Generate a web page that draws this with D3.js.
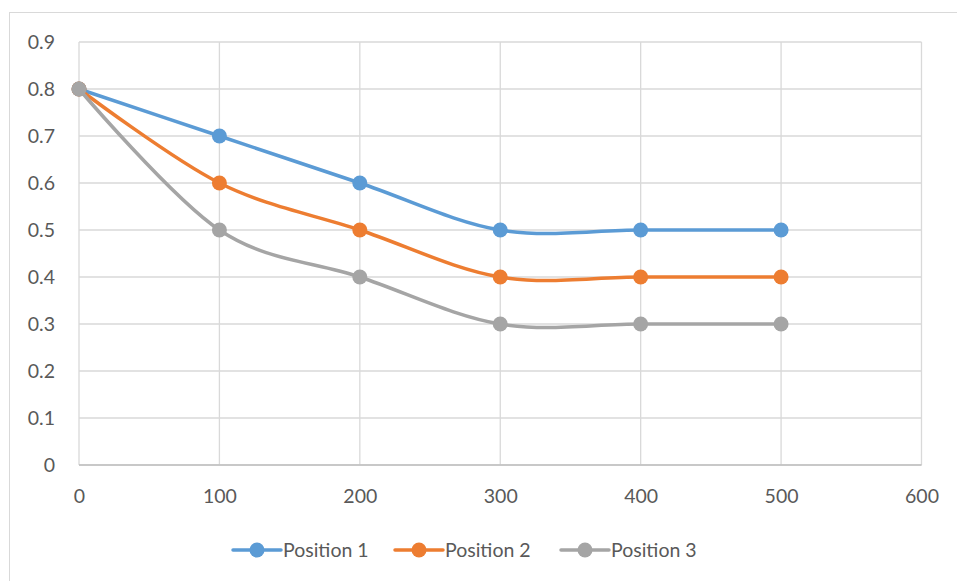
<!DOCTYPE html>
<html>
<head>
<meta charset="utf-8">
<script src="https://cdn.jsdelivr.net/npm/d3@7"></script>
<style>
  html, body { margin: 0; padding: 0; background: #fff; }
  svg { display: block; }
  text { font-family: Lato, "Open Sans", sans-serif; fill: #595959; }
</style>
</head>
<body>
<svg id="chart" width="957" height="581"></svg>
<script>
const xValues = [0, 100, 200, 300, 400, 500];
const seriesNames = ["Position 1", "Position 2", "Position 3"];
const position1 = [0.8, 0.7, 0.6, 0.5, 0.5, 0.5];
const position2 = [0.8, 0.6, 0.5, 0.4, 0.4, 0.4];
const position3 = [0.8, 0.5, 0.4, 0.3, 0.3, 0.3];
const xTicks = [0, 100, 200, 300, 400, 500, 600];
const yTicks = [0, 0.1, 0.2, 0.3, 0.4, 0.5, 0.6, 0.7, 0.8, 0.9];
const colors = ["#5B9BD5", "#ED7D31", "#A5A5A5"];

(function () {
const svg = d3.select("#chart");
const W = 957, H = 581;
const mLeft = 79, mRight = 921.5, mTop = 42, mBottom = 465;
const fontSize = "19.5px";

// outer chart border
svg.append("rect").attr("x", 9.5).attr("y", 12.5).attr("width", W).attr("height", H)
  .attr("fill", "#fff").attr("stroke", "#D9D9D9").attr("stroke-width", 1);

const x = d3.scaleLinear().domain([0, 600]).range([mLeft, mRight]);
const y = d3.scaleLinear().domain([0, 0.9]).range([mBottom, mTop]);

// gridlines
const grid = svg.append("g");
grid.selectAll("line.h").data(yTicks).join("line").attr("class", "h")
  .attr("x1", mLeft).attr("x2", mRight)
  .attr("y1", d => y(d)).attr("y2", d => y(d))
  .attr("stroke", "#D9D9D9").attr("stroke-width", 1.3);
grid.selectAll("line.v").data(xTicks).join("line").attr("class", "v")
  .attr("y1", mTop).attr("y2", mBottom)
  .attr("x1", d => x(d)).attr("x2", d => x(d))
  .attr("stroke", "#D9D9D9").attr("stroke-width", 1.3);
// bottom axis line
svg.append("line").attr("x1", mLeft).attr("x2", mRight).attr("y1", mBottom).attr("y2", mBottom)
  .attr("stroke", "#BFBFBF").attr("stroke-width", 1.3);

// axes labels via d3 axes
const yAxis = d3.axisLeft(y).tickValues(yTicks).tickSize(0).tickPadding(24)
  .tickFormat(d => d === 0 ? "0" : d3.format(".1f")(d));
const gy = svg.append("g").attr("transform", `translate(${mLeft},0)`).call(yAxis);
gy.select(".domain").remove();
gy.selectAll("text").style("font-size", fontSize).attr("fill", "#595959")
  .style("font-family", "Lato, 'Open Sans', sans-serif");

const xAxis = d3.axisBottom(x).tickValues(xTicks).tickSize(0).tickPadding(24)
  .tickFormat(d3.format("d"));
const gx = svg.append("g").attr("transform", `translate(0,${mBottom})`).call(xAxis);
gx.select(".domain").remove();
gx.selectAll("text").style("font-size", fontSize).attr("fill", "#595959")
  .style("font-family", "Lato, 'Open Sans', sans-serif");

// series
const allSeries = [position1, position2, position3];
const line = d3.line().x(d => x(d[0])).y(d => y(d[1])).curve(d3.curveCatmullRom.alpha(0));

allSeries.forEach((vals, i) => {
  const pts = xValues.map((xv, j) => [xv, vals[j]]);
  const g = svg.append("g");
  g.append("path").attr("d", line(pts)).attr("fill", "none")
    .attr("stroke", colors[i]).attr("stroke-width", 3.5).attr("stroke-linecap", "round");
  g.selectAll("circle").data(pts).join("circle")
    .attr("cx", d => x(d[0])).attr("cy", d => y(d[1])).attr("r", 7.5)
    .attr("fill", colors[i]);
});

// legend
const legendX = [233, 395, 561];
const legendY = 550;
seriesNames.forEach((name, i) => {
  const g = svg.append("g").attr("transform", `translate(${legendX[i]},${legendY})`);
  g.append("line").attr("x1", 0).attr("x2", 48).attr("y1", 0).attr("y2", 0)
    .attr("stroke", colors[i]).attr("stroke-width", 3.5).attr("stroke-linecap", "round");
  g.append("circle").attr("cx", 24).attr("cy", 0).attr("r", 7.5).attr("fill", colors[i]);
  g.append("text").attr("x", 50).attr("y", 0).attr("dy", "0.35em")
    .style("font-size", fontSize).text(name);
});
})();
</script>
</body>
</html>
